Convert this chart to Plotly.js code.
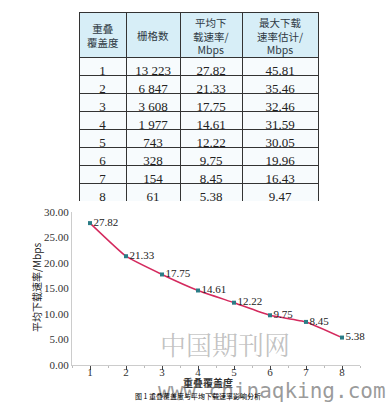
<!DOCTYPE html>
<html><head><meta charset="utf-8">
<script src="https://cdn.plot.ly/plotly-3.0.1.min.js"></script>
<style>body{margin:0;background:#fff}#c{width:391px;height:402px}</style>
</head><body><div id="c"></div>
<script>
const headers = ['重叠<br>覆盖度', '栅格数', '平均下<br>载速率/<br>Mbps', '最大下载<br>速率估计/<br>Mbps'];
const overlap = [1, 2, 3, 4, 5, 6, 7, 8];
const gridCount = ['13\u00a0223', '6\u00a0847', '3\u00a0608', '1\u00a0977', '743', '328', '154', '61'];
const avgRate = [27.82, 21.33, 17.75, 14.61, 12.22, 9.75, 8.45, 5.38];
const maxRate = [45.81, 35.46, 32.46, 31.59, 30.05, 19.96, 16.43, 9.47];

const W = 391, H = 402;
const px = x => x / W, py = y => 1 - y / H;

// table frame (pixels)
const TL = 79, TR = 318, TT = 12, HH = 45, RH = 18;
const colW = [47, 54, 62, 76];
const TB = TT + HH + RH * overlap.length;

const table = {
  type: 'table',
  domain: {x: [px(TL), px(TR)], y: [py(TB), py(TT)]},
  columnwidth: colW,
  header: {
    values: headers.map(() => ''),
    height: HH,
    align: 'center',
    fill: {color: '#d7eef7'},
    line: {color: '#333', width: 1},
    font: {family: 'Noto Sans CJK SC', size: 10, color: '#333'}
  },
  cells: {
    values: [overlap, gridCount, avgRate.map(v => v.toFixed(2)), maxRate.map(v => v.toFixed(2))],
    height: RH,
    align: 'center',
    fill: {color: '#f7fbfd'},
    line: {color: '#333', width: 1},
    font: {family: 'Liberation Serif, serif', size: 13, color: '#222'}
  }
};

// header labels placed at column centres derived from the column widths
const totalW = colW.reduce((a, b) => a + b, 0);
const headerAnn = [];
let acc = 0;
headers.forEach((h, i) => {
  const cx = TL + (acc + colW[i] / 2) / totalW * (TR - TL);
  acc += colW[i];
  headerAnn.push({
    text: h, x: px(cx), y: py(TT + HH / 2 + 1), xref: 'paper', yref: 'paper',
    xanchor: 'center', yanchor: 'middle', align: 'center', showarrow: false,
    font: {family: 'Noto Sans CJK SC', size: 10.5, color: '#2f3a44'}
  });
});

const line = {
  type: 'scatter',
  mode: 'lines+markers+text',
  x: overlap,
  y: avgRate,
  text: avgRate.map(v => v.toFixed(2)),
  textposition: 'middle right',
  textfont: {family: 'Liberation Serif, serif', size: 11, color: '#222'},
  line: {color: '#d42a5e', width: 1.5, shape: 'spline', smoothing: 0.4},
  marker: {symbol: 'square', size: 4, color: '#2b7c86'},
  cliponaxis: false,
  hoverinfo: 'skip'
};

const layout = {
  width: W, height: H,
  margin: {l: 0, r: 0, t: 0, b: 0},
  paper_bgcolor: '#fff', plot_bgcolor: '#fff',
  showlegend: false,
  xaxis: {
    domain: [px(72), px(360)],
    anchor: 'y',
    range: [0.5, 8.5],
    tickvals: overlap,
    ticktext: overlap.map(String),
    ticks: 'outside', ticklen: 4, tickcolor: '#444', tickwidth: 1,
    ticklabelstandoff: -7,
    minor: {tick0: 0.5, dtick: 1, ticks: 'outside', ticklen: 2, tickcolor: '#bbb'},
    showline: true, linecolor: '#ccc', linewidth: 1,
    showgrid: false, zeroline: false,
    tickfont: {family: 'Liberation Serif, serif', size: 11, color: '#333'}
  },
  yaxis: {
    domain: [py(365), py(212)],
    anchor: 'x',
    range: [0, 30],
    tickvals: [0, 5, 10, 15, 20, 25, 30],
    tickformat: '.2f',
    ticks: '', ticklen: 0,
    showline: true, linecolor: '#ccc', linewidth: 1,
    showgrid: false, zeroline: false,
    tickfont: {family: 'Liberation Serif, serif', size: 11, color: '#333'}
  },
  annotations: headerAnn.concat([
    {text: '平均下载速率/Mbps', textangle: -90, x: px(36), y: py(288), xref: 'paper', yref: 'paper',
     xanchor: 'center', yanchor: 'middle',
     showarrow: false, font: {family: 'Noto Sans CJK SC', size: 10, color: '#222'}},
    {text: '<b>重叠覆盖度</b>', x: px(208), y: py(382), xref: 'paper', yref: 'paper',
     xanchor: 'center', yanchor: 'middle',
     showarrow: false, font: {family: 'Noto Sans CJK SC', size: 10, color: '#333'}},
    {text: '中国期刊网', x: px(225), y: py(343), xref: 'paper', yref: 'paper',
     xanchor: 'center', yanchor: 'middle',
     showarrow: false, font: {family: 'Noto Serif CJK SC, Noto Sans CJK SC', size: 26, color: 'rgba(120,120,120,0.45)'}},
    {text: 'www.chinaqking.com', x: px(272), y: py(391), xref: 'paper', yref: 'paper',
     xanchor: 'center', yanchor: 'middle',
     showarrow: false, font: {family: 'DejaVu Sans Mono, Liberation Mono', size: 21, color: 'rgba(110,110,110,0.7)'}},
    {text: '图 1 重叠覆盖度与平均下载速率影响分析', x: px(198), y: py(396), xref: 'paper', yref: 'paper',
     xanchor: 'center', yanchor: 'middle',
     showarrow: false, font: {family: 'Noto Sans CJK SC', size: 7, color: '#000'}}
  ])
};

Plotly.newPlot('c', [table, line], layout, {staticPlot: true, displayModeBar: false});
</script>
</body></html>
